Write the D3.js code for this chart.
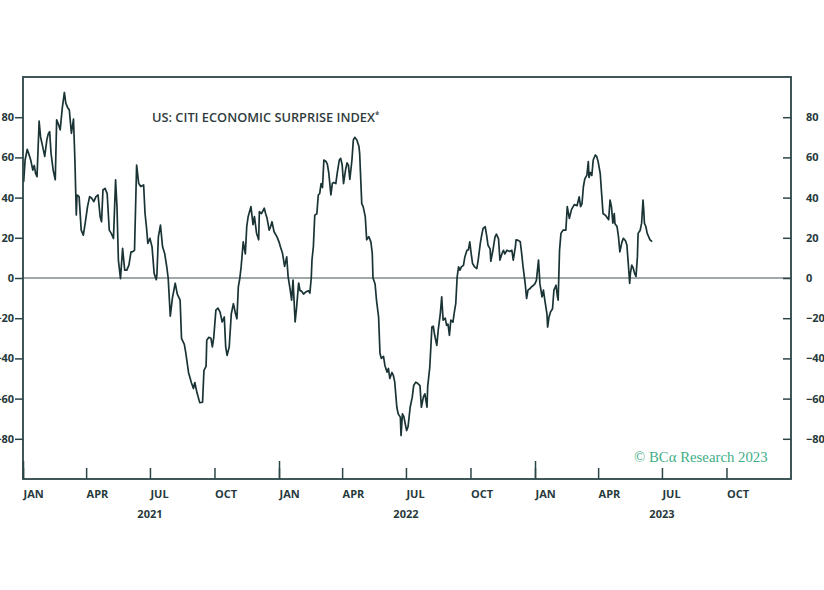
<!DOCTYPE html>
<html>
<head>
<meta charset="utf-8">
<script src="https://cdn.jsdelivr.net/npm/d3@7"></script>
<style>
  body { margin: 0; background: #fff; }
  svg { display: block; }
</style>
</head>
<body>
<div id="chart"></div>
<script>
// US Citi economic surprise index
const days2021 = ["01-01","01-02","01-04","01-07","01-10","01-12","01-15","01-17","01-19","01-21","01-24","01-26","01-29",
  "02-01","02-04","02-06","02-08","02-10","02-13","02-16","02-18","02-20","02-23","02-26",
  "03-01","03-03","03-06","03-08","03-11","03-14","03-16","03-18","03-19","03-22","03-25","03-28","03-31",
  "04-03","04-06","04-09","04-12","04-15","04-18","04-21","04-23","04-25","04-28",
  "05-01","05-04","05-07","05-10","05-13","05-15","05-17","05-20","05-23","05-26","05-29",
  "06-01","06-04","06-06","06-09","06-12","06-15","06-18","06-22","06-24","06-26","06-28",
  "07-01","07-04","07-07","07-10","07-11","07-13","07-16","07-19","07-22","07-25","07-27","07-30",
  "08-02","08-06","08-09","08-13","08-15","08-19","08-21","08-25","08-29",
  "09-01","09-03","09-06","09-10","09-14","09-16","09-19","09-20","09-23","09-26","09-28","09-30",
  "10-03","10-06","10-09","10-12","10-15","10-17","10-19","10-22","10-25","10-28","10-31",
  "11-02","11-04","11-06","11-08","11-11","11-14","11-16","11-18","11-22","11-25","11-27","11-30",
  "12-03","12-04","12-07","12-11","12-13","12-15","12-18","12-20","12-22","12-25","12-29"];
const vals2021 = [48,48,58.7,64,61,58.7,53.7,56,52,50.4,78,70.3,65.5,
  60.5,68.7,71.7,72.8,62,53.7,48.9,78.7,77,73.7,84.5,
  92.3,87,84.5,83.7,72,79,58.7,31.3,41.3,40.5,23.8,21.3,28,
  35.5,40.5,39.7,38,40.5,41.3,30.5,28,43.8,44.6,
  42,23.8,22.1,19.7,48.8,35.5,8.9,-0.3,14.7,3.9,3.9,
  6.4,13,13,13.8,56.2,47,45.5,46.3,32.1,25.5,17.2,
  19.7,15.5,2.2,-0.8,2,20.5,26.3,15.5,12.2,5.5,0,-19,
  -10,-2.6,-8,-11,-30,-33,-37,-47,-52,
  -55,-52,-57,-62,-61.8,-46,-44,-31,-29.5,-30,-34.3,-29.5,
  -16,-15,-17,-21.9,-19.4,-34.3,-38.5,-34.3,-17.8,-12.8,-17.8,
  -20.3,-4.4,-0.5,5.5,18,12,25.5,30.5,35.5,26.6,30.5,22.3,
  19,33,32,34.7,32,29.7,23.8,25.5,28,23,20.6];

const days2022 = ["01-01","01-03","01-06","01-09","01-12","01-14","01-17","01-19","01-21","01-24","01-26","01-29","01-31",
  "02-02","02-05","02-08","02-12","02-14","02-16","02-17","02-19","02-21","02-24","02-26","02-28",
  "03-02","03-04","03-06","03-09","03-11","03-13","03-16","03-18","03-20","03-23","03-25","03-28","03-30",
  "04-01","04-03","04-06","04-08","04-10","04-12","04-15","04-17","04-19","04-22","04-25","04-26","04-29",
  "05-01","05-04","05-06","05-09","05-12","05-14","05-15","05-18","05-20","05-23","05-25","05-27","05-30",
  "06-01","06-04","06-06","06-08","06-11","06-13","06-15","06-18","06-20","06-23","06-24","06-26","06-28","06-30",
  "07-02","07-04","07-07","07-10","07-12","07-15","07-18","07-21","07-23","07-26","07-28","07-31",
  "08-01","08-04","08-07","08-09","08-11","08-14","08-16","08-19","08-21","08-23","08-26","08-28","08-30",
  "09-01","09-03","09-06","09-08","09-10","09-12","09-14","09-16","09-18","09-21","09-23","09-26","09-28","09-30",
  "10-02","10-04","10-07","10-10","10-12","10-15","10-17","10-19","10-22","10-24","10-26","10-29","10-30",
  "11-02","11-05","11-07","11-10","11-12","11-15","11-17","11-19","11-22","11-26","11-29",
  "12-01","12-04","12-05","12-08","12-11","12-13","12-15","12-18","12-20","12-22","12-25","12-27","12-30"];
const vals2022 = [18,15.6,12.3,5.8,10.5,0.7,-6,-11,-1,-21.9,-15,-2.5,-6.3,
  -6.5,-8,-7,-6.3,-7.5,0,8.9,15.6,31.3,32,41.3,42,
  47,45,58.7,58,56.5,52.2,41.3,47,47.5,47,52.2,58.7,59.5,
  56.5,47,54,57.3,56,49,58.7,68.7,70,68.7,65.4,62,37,
  35.5,30.5,19,20.6,18,12.3,0,-3,-11,-19.4,-37.6,-40,-39,
  -43.5,-46.8,-45,-50,-47,-48.4,-51.7,-64.3,-67.6,-69.2,-78.4,-67.6,-69,-72.5,
  -75.9,-74,-64.3,-59.3,-53.5,-51.8,-52.5,-53.5,-64.3,-59,-57.6,-64.3,
  -54,-44.3,-24.4,-24,-28.5,-33.5,-26,-17.7,-9.4,-21,-20,-23.6,-23,
  -28.5,-21,-22,-17,-12.8,0.5,5.5,3.9,5.5,6.3,10.5,13.8,14,18,
  12.2,7.2,5.5,4.7,8.9,17.2,21.3,24.7,25.5,21.3,16.3,14.5,8.3,
  13.8,20.5,21.8,19.5,8.9,12.2,13.8,12,13.8,13.2,13.8,
  8.9,15.5,19,18.7,18,12.2,5.5,-2.7,-10.2,-6,-5.2,-4.4,-3.6];

const days2023 = ["01-01","01-03","01-06","01-08","01-11","01-13","01-15","01-18","01-19","01-21","01-23","01-26","01-28","01-31",
  "02-02","02-03","02-05","02-07","02-10","02-14","02-16","02-19","02-22","02-26",
  "03-02","03-05","03-07","03-09","03-11","03-13","03-16","03-18","03-19","03-21","03-23","03-25","03-28","03-30",
  "04-01","04-04","04-06","04-08","04-12","04-16","04-18","04-20","04-22","04-24","04-25","04-28","04-30",
  "05-02","05-05","05-07","05-10","05-12","05-14","05-16","05-17","05-19","05-21","05-23","05-25","05-27","05-28","05-31",
  "06-02","06-04","06-05","06-06","06-08","06-10","06-12","06-14","06-17"];
const vals2023 = [-2.8,-1.2,8.9,-2.8,-9.4,-6,-11,-17.7,-24.4,-19.4,-17,-15.3,-6,-3.6,
  -9.4,-11,13.9,22.2,23.8,23.8,35.5,29.7,34,36.5,
  36,40.4,35.5,37,45.4,49.3,51.2,57.9,50,52.5,51,58.7,61.2,60.4,
  57.9,52,42,32.1,31,29,38.8,35.5,27.3,32,27,25.6,20.6,
  13,18,19.7,18.5,16.4,7.2,-2.7,2.3,6.4,5,2.3,0.8,10.5,22.2,23.8,
  27.3,38.8,34,27.3,25.6,22.2,20.6,19,18.1];

const yTicks = [-80, -60, -40, -20, 0, 20, 40, 60, 80];
const monthNames = ["JAN", "APR", "JUL", "OCT"];
const chartTitle = "US: CITI ECONOMIC SURPRISE INDEX";
const credit = "\u00A9 BC\u03B1 Research 2023";

const parse = d3.timeParse("%Y-%m-%d");
const data = [];
[[2021, days2021, vals2021], [2022, days2022, vals2022], [2023, days2023, vals2023]]
  .forEach(([yr, ds, vs]) => ds.forEach((d, i) => data.push({date: parse(`${yr}-${d}`), value: vs[i]})));

const width = 824, height = 590;
const margin = {top: 77, right: 33, bottom: 111, left: 23};
const ink = "#27393b";

const svg = d3.select("#chart").append("svg")
  .attr("width", width)
  .attr("height", height);

const x = d3.scaleTime()
  .domain([new Date(2021, 0, 1), new Date(2024, 0, 1)])
  .range([margin.left, width - margin.right]);

const y = d3.scaleLinear()
  .domain([-100, 100])
  .range([height - margin.bottom, margin.top]);

// zero line
svg.append("line")
  .attr("x1", x.range()[0]).attr("x2", x.range()[1])
  .attr("y1", y(0)).attr("y2", y(0))
  .attr("stroke", "#7f8d8d")
  .attr("stroke-width", 1.3);

// series
svg.append("path")
  .datum(data)
  .attr("fill", "none")
  .attr("stroke", "#1a3335")
  .attr("stroke-width", 1.7)
  .attr("stroke-linejoin", "round")
  .attr("d", d3.line().x(d => x(d.date)).y(d => y(d.value)));

// left axis, ticks outside (labels run off the left edge as in the original)
svg.append("g")
  .attr("transform", `translate(${margin.left},0)`)
  .call(d3.axisLeft(y).tickValues(yTicks).tickSize(8).tickPadding(1));
// right axis, ticks inside
svg.append("g")
  .attr("transform", `translate(${width - margin.right},0)`)
  .call(d3.axisRight(y).tickValues(yTicks).tickSize(-8).tickPadding(15));

// quarter ticks with month labels
const quarters = d3.timeMonth.every(3).range(new Date(2021, 0, 1), new Date(2023, 11, 1));
const xAxis = svg.append("g")
  .attr("transform", `translate(0,${height - margin.bottom})`)
  .call(d3.axisBottom(x).tickValues(quarters).tickSize(-11).tickPadding(11)
    .tickFormat(d => monthNames[d.getMonth() / 3]));
xAxis.selectAll("text").attr("text-anchor", "start");

// taller year ticks
const years = d3.timeYear.range(new Date(2021, 0, 1), new Date(2024, 0, 1));
svg.append("g")
  .attr("transform", `translate(0,${height - margin.bottom})`)
  .call(d3.axisBottom(x).tickValues(years).tickSize(-18).tickFormat(""));

// year labels centred on July
svg.append("g").selectAll("text")
  .data(years)
  .join("text")
  .attr("x", d => x(d3.timeMonth.offset(d, 6)))
  .attr("y", 518)
  .attr("text-anchor", "middle")
  .attr("font-family", "'Open Sans', sans-serif")
  .attr("font-weight", 700)
  .attr("font-size", 11)
  .attr("fill", ink)
  .text(d => d.getFullYear());

svg.selectAll(".domain").remove();
svg.selectAll(".tick line").attr("stroke", "#2c4547").attr("stroke-width", 1.5);
svg.selectAll(".tick text")
  .attr("font-family", "'Open Sans', sans-serif")
  .attr("font-weight", 700)
  .attr("font-size", 11)
  .attr("fill", ink);

// frame
svg.append("rect")
  .attr("x", margin.left).attr("y", margin.top)
  .attr("width", width - margin.left - margin.right)
  .attr("height", height - margin.top - margin.bottom)
  .attr("fill", "none")
  .attr("stroke", "#2c4547")
  .attr("stroke-width", 1.8);

// title
const t = svg.append("text")
  .attr("x", 152)
  .attr("y", 121.5)
  .attr("font-family", "'Open Sans', sans-serif")
  .attr("font-weight", 600)
  .attr("font-size", 12.8)
  .attr("fill", "#2f3c3d")
  .text(chartTitle);
t.append("tspan").attr("font-size", 8).attr("dy", -4).text("*");

// credit
svg.append("text")
  .attr("x", 634)
  .attr("y", 462)
  .attr("font-family", "'Liberation Serif', serif")
  .attr("font-size", 14.8)
  .attr("fill", "#3fae88")
  .text(credit);
</script>
</body>
</html>
